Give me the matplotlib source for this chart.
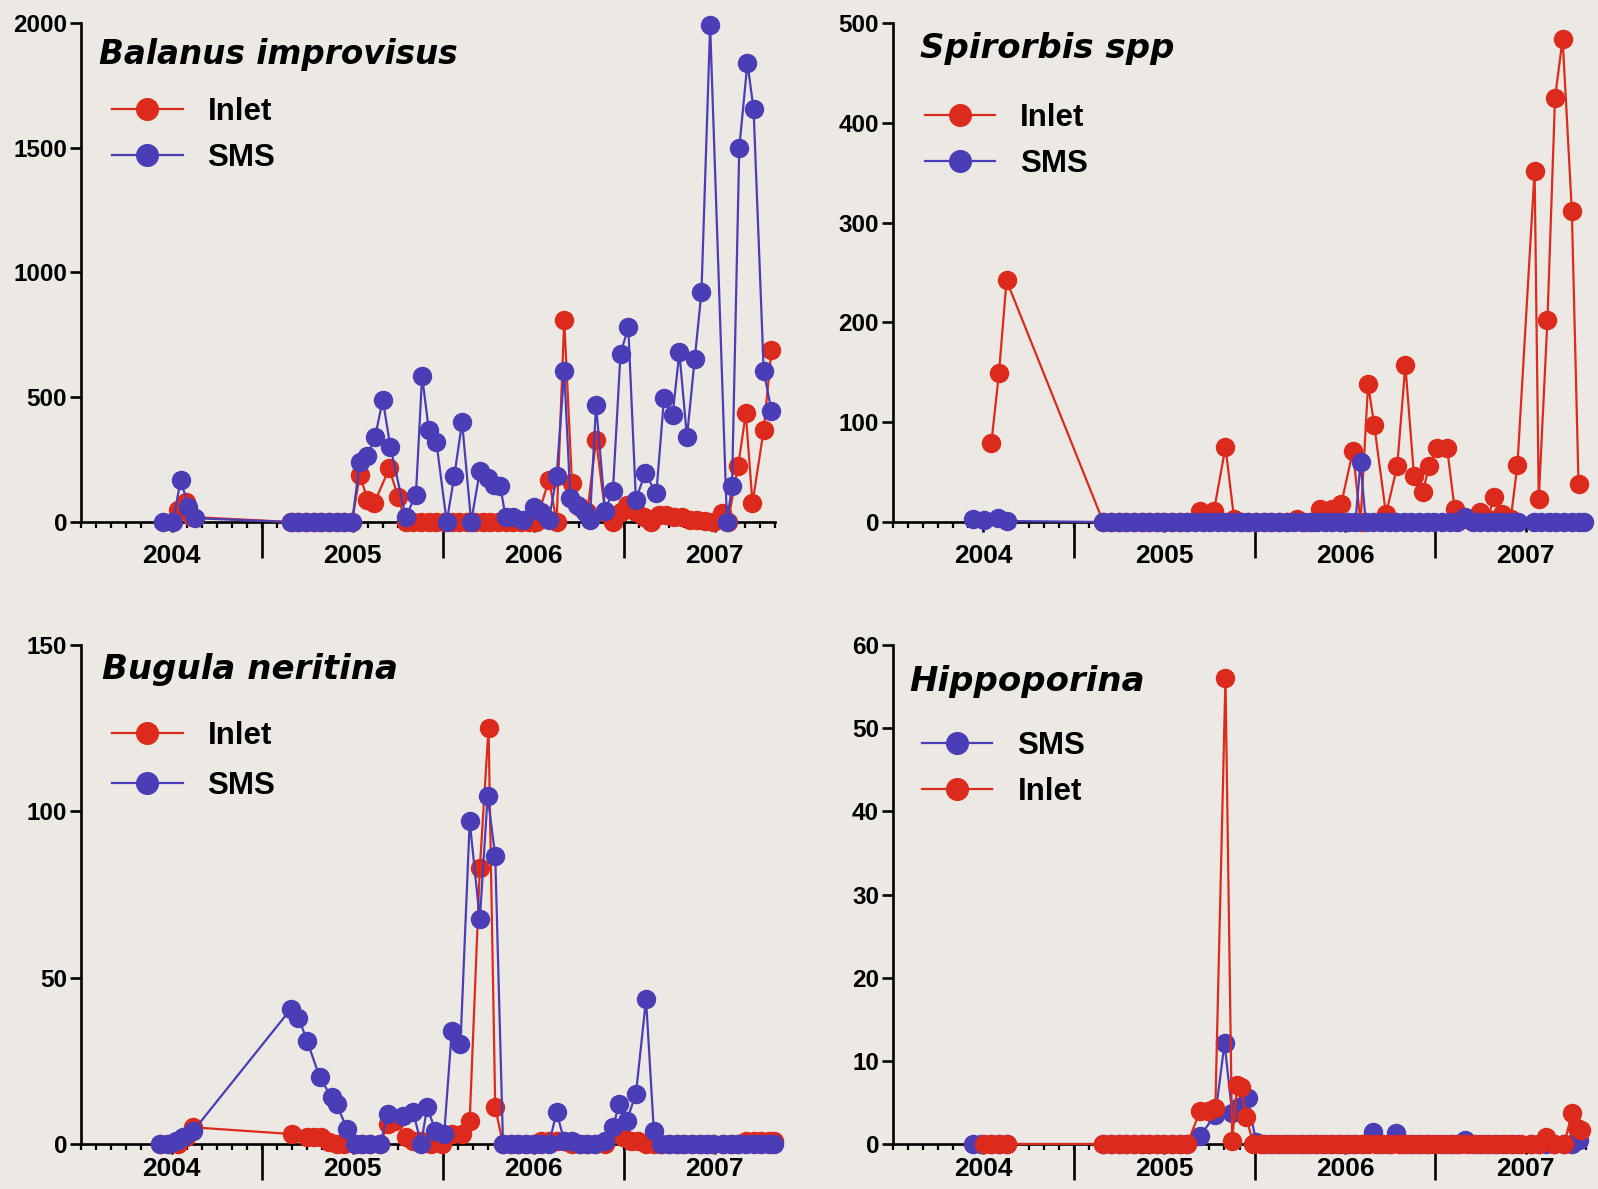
import numpy as np
import matplotlib
matplotlib.use("Agg")
import matplotlib.pyplot as plt
import matplotlib.transforms as mtransforms

plt.rcParams['font.family'] = ['Liberation Sans', 'DejaVu Sans']
plt.rcParams['font.weight'] = 'bold'

BG = '#ece9e4'
RED = '#dc2a1c'
BLUE = '#4a3db5'

YEARS = [2004, 2005, 2006, 2007]
YEAR_LABELS = ['2004', '2005', '2006', '2007']
SEASON_SPLITS = [2004.5, 2005.5, 2006.5]

# ---------------- Balanus improvisus ----------------
tl_sms_t = [2003.952, 2004.008, 2004.051, 2004.093, 2004.130,
            2004.658, 2004.701, 2004.743, 2004.785, 2004.828, 2004.870, 2004.912, 2004.955, 2004.997,
            2005.040, 2005.082, 2005.124, 2005.167, 2005.209, 2005.294, 2005.350, 2005.384, 2005.421, 2005.463,
            2005.520, 2005.562, 2005.605, 2005.655, 2005.703, 2005.746, 2005.782, 2005.816, 2005.845, 2005.887,
            2005.944, 2006.000, 2006.042, 2006.085, 2006.127, 2006.169, 2006.203, 2006.240, 2006.282, 2006.311,
            2006.345, 2006.395, 2006.438, 2006.480, 2006.523, 2006.565, 2006.616, 2006.678, 2006.720, 2006.768,
            2006.805, 2006.847, 2006.890, 2006.927, 2006.975, 2007.068, 2007.096, 2007.136, 2007.181, 2007.215,
            2007.271, 2007.314]
tl_sms = [0, 0, 170, 60, 15,
          0, 0, 0, 0, 0, 0, 0, 0, 0,
          240, 265, 340, 490, 300, 20, 110, 585, 370, 320,
          0, 185, 400, 0, 205, 175, 150, 145, 20, 20,
          10, 60, 40, 10, 185, 605, 95, 70, 40, 10,
          470, 45, 125, 675, 780, 90, 195, 115, 495, 430,
          680, 340, 655, 920, 1990, 0, 145, 1500, 1840, 1655,
          605, 445]
tl_inlet_t = [2004.037, 2004.079, 2004.113,
              2004.658, 2004.701, 2004.743, 2004.785, 2004.828, 2004.870, 2004.912, 2004.955, 2004.997,
              2005.040, 2005.082, 2005.119, 2005.203, 2005.251, 2005.294,
              2005.336, 2005.379, 2005.421, 2005.463, 2005.506, 2005.548, 2005.590, 2005.633, 2005.675,
              2005.718, 2005.760, 2005.802, 2005.845, 2005.887, 2005.929, 2005.972, 2006.014,
              2006.085, 2006.127, 2006.169, 2006.212, 2006.254, 2006.297, 2006.345, 2006.395, 2006.438, 2006.480,
              2006.514, 2006.565, 2006.607, 2006.650, 2006.692, 2006.734, 2006.777, 2006.819, 2006.862, 2006.904,
              2006.946, 2006.989, 2007.040, 2007.073, 2007.130, 2007.172, 2007.209, 2007.271, 2007.314]
tl_inlet = [50, 80, 20,
            0, 0, 0, 0, 0, 0, 0, 0, 0,
            190, 90, 75, 215, 100, 0,
            0, 0, 0, 0, 0, 0, 0, 0, 0, 0, 0, 0, 0, 0, 0, 0, 0,
            170, 0, 810, 155, 60, 40, 330, 40, 0, 40,
            70, 40, 20, 0, 30, 30, 20, 20, 10, 10,
            5, 0, 35, 0, 225, 435, 75, 370, 690]

# ---------------- Spirorbis spp ----------------
tr_inlet_t = [2004.044, 2004.086, 2004.128,
              2004.663, 2004.706, 2004.748, 2004.790, 2004.832, 2004.875, 2004.917, 2004.959, 2005.001,
              2005.044, 2005.086, 2005.128,
              2005.199, 2005.241, 2005.275, 2005.339, 2005.387, 2005.424, 2005.466, 2005.508, 2005.551, 2005.593,
              2005.635, 2005.677, 2005.734, 2005.776, 2005.818, 2005.861, 2005.931, 2005.979, 2006.044, 2006.086,
              2006.128, 2006.162, 2006.227, 2006.289, 2006.334, 2006.382, 2006.430, 2006.466, 2006.508, 2006.565,
              2006.607, 2006.663, 2006.706, 2006.748, 2006.790, 2006.824, 2006.869, 2006.917, 2006.954, 2007.049,
              2007.072, 2007.120, 2007.162, 2007.204, 2007.255, 2007.292]
tr_inlet = [79, 149, 242,
            0, 0, 0, 0, 0, 0, 0, 0, 0, 0, 0, 0,
            11, 3, 11, 75, 3, 0, 0, 0, 0, 0,
            0, 0, 3, 0, 0, 13, 13, 18, 71, 0,
            138, 97, 8, 56, 157, 46, 30, 56, 74, 74,
            13, 3, 3, 10, 3, 25, 8, 3, 57, 352,
            23, 202, 425, 484, 312, 38]
tr_sms_t = [2003.945, 2004.001, 2004.080, 2004.128,
            2004.663, 2004.706, 2004.748, 2004.790, 2004.832, 2004.875, 2004.917, 2004.959, 2005.001, 2005.044,
            2005.086, 2005.128, 2005.170, 2005.213, 2005.255, 2005.297, 2005.339, 2005.382, 2005.424, 2005.466,
            2005.508, 2005.551, 2005.593, 2005.635, 2005.677, 2005.720, 2005.762, 2005.804, 2005.846, 2005.889,
            2005.931, 2005.973, 2006.015, 2006.058, 2006.086, 2006.115, 2006.157, 2006.199, 2006.241, 2006.283,
            2006.326, 2006.368, 2006.410, 2006.452, 2006.494, 2006.537, 2006.579, 2006.621, 2006.663, 2006.706,
            2006.748, 2006.790, 2006.832, 2006.875, 2006.917, 2006.959, 2007.044, 2007.086, 2007.128, 2007.170,
            2007.213, 2007.255, 2007.297, 2007.325]
tr_sms = [3, 2, 4, 1,
          0, 0, 0, 0, 0, 0, 0, 0, 0, 0,
          0, 0, 0, 0, 0, 0, 0, 0, 0, 0,
          0, 0, 0, 0, 0, 0, 0, 0, 0, 0,
          0, 0, 0, 0, 60, 0, 0, 0, 0, 0,
          0, 0, 0, 0, 0, 0, 0, 0, 5, 0,
          0, 0, 0, 0, 0, 0, 0, 0, 0, 0,
          0, 0, 0, 0]

# ---------------- Bugula neritina ----------------
bl_sms_t = [2003.938, 2003.980, 2004.023, 2004.065, 2004.121,
            2004.658, 2004.701, 2004.749, 2004.819, 2004.884, 2004.912, 2004.969, 2005.011, 2005.054, 2005.096,
            2005.153, 2005.195, 2005.280, 2005.336, 2005.378, 2005.412, 2005.458, 2005.506, 2005.548, 2005.596,
            2005.647, 2005.703, 2005.746, 2005.788, 2005.831, 2005.873, 2005.915, 2005.958, 2006.000, 2006.042,
            2006.085, 2006.127, 2006.169, 2006.212, 2006.254, 2006.297, 2006.339, 2006.395, 2006.438, 2006.472,
            2006.514, 2006.565, 2006.621, 2006.664, 2006.706, 2006.749, 2006.791, 2006.833, 2006.876, 2006.918,
            2006.960, 2006.989, 2007.045, 2007.088, 2007.130, 2007.172, 2007.215, 2007.257, 2007.299, 2007.328]
bl_sms = [0, 0, 1, 2, 4,
          40.5, 38, 31, 20, 14, 12, 4.5, 0, 0, 0,
          0, 9, 8.4, 9.5, 0, 11, 4, 3, 34, 30,
          97, 67.5, 104.6, 86.6, 0, 0, 0, 0, 0, 0,
          0, 9.6, 1, 1, 0, 0, 0, 1, 5, 12,
          7, 15, 43.5, 4, 0, 0, 0, 0, 0, 0,
          0, 0, 0, 0, 0, 0, 0, 0, 0, 0]
bl_inlet_t = [2003.938, 2003.980, 2004.037, 2004.079, 2004.121,
              2004.664, 2004.749, 2004.785, 2004.828, 2004.870, 2004.912, 2004.955, 2005.011, 2005.054, 2005.096,
              2005.153, 2005.195, 2005.237, 2005.294, 2005.336, 2005.378, 2005.435, 2005.492, 2005.548, 2005.605,
              2005.647, 2005.703, 2005.751, 2005.788, 2005.831, 2005.873, 2005.915, 2005.958, 2006.000, 2006.042,
              2006.085, 2006.127, 2006.169, 2006.212, 2006.254, 2006.297, 2006.339, 2006.395, 2006.451, 2006.494,
              2006.537, 2006.579, 2006.621, 2006.664, 2006.706, 2006.749, 2006.791, 2006.833, 2006.876, 2006.918,
              2006.960, 2006.989, 2007.045, 2007.088, 2007.130, 2007.172, 2007.215, 2007.257, 2007.299, 2007.328]
bl_inlet = [0, 0, 0, 2, 5,
            3, 2, 2, 2, 0.5, 0, 0, 0, 0, 0,
            0, 6, 7, 2, 1, 1, 0, 0, 3, 3,
            7, 83, 125, 11, 0, 0, 0, 0, 0, 1,
            1, 1, 1, 0, 0, 0, 0, 0, 4, 2,
            1, 1, 0, 0, 0, 0, 0, 0, 0, 0,
            0, 0, 0, 0, 0, 1, 1, 1, 1, 1]

# ---------------- Hippoporina ----------------
br_sms_t = [2003.945, 2003.987, 2004.044, 2004.086, 2004.128,
            2004.663, 2004.706, 2004.748, 2004.790, 2004.832, 2004.875, 2004.917, 2004.959, 2005.001, 2005.044,
            2005.086, 2005.128, 2005.199, 2005.283, 2005.334, 2005.376, 2005.415, 2005.461, 2005.508, 2005.551,
            2005.593, 2005.635, 2005.677, 2005.720, 2005.762, 2005.804, 2005.846, 2005.889, 2005.931, 2005.973,
            2006.015, 2006.058, 2006.100, 2006.156, 2006.199, 2006.241, 2006.283, 2006.326, 2006.368, 2006.410,
            2006.452, 2006.494, 2006.537, 2006.579, 2006.621, 2006.663, 2006.706, 2006.748, 2006.790, 2006.832,
            2006.875, 2006.917, 2006.959, 2007.030, 2007.072, 2007.114, 2007.156, 2007.213, 2007.255, 2007.297]
br_sms = [0, 0, 0, 0, 0,
          0, 0, 0, 0, 0, 0, 0, 0, 0, 0,
          0, 0, 1, 3.5, 12.1, 3.7, 4.5, 5.5, 0.3, 0,
          0, 0, 0, 0, 0, 0, 0, 0, 0, 0,
          0, 0, 0, 1.5, 0, 0, 1.3, 0, 0, 0,
          0, 0, 0, 0, 0, 0.5, 0, 0, 0, 0,
          0, 0, 0, 0, 0, 0, 0, 0, 0, 0.5]
br_inlet_t = [2004.001, 2004.044, 2004.086, 2004.128,
              2004.663, 2004.706, 2004.748, 2004.790, 2004.832, 2004.875, 2004.917, 2004.959, 2005.001, 2005.044,
              2005.086, 2005.128, 2005.199, 2005.241, 2005.283, 2005.339, 2005.376, 2005.404, 2005.424, 2005.452,
              2005.494, 2005.536, 2005.579, 2005.621, 2005.663, 2005.706, 2005.748, 2005.790, 2005.832, 2005.875,
              2005.917, 2005.959, 2006.001, 2006.044, 2006.086, 2006.128, 2006.170, 2006.213, 2006.255, 2006.297,
              2006.339, 2006.382, 2006.424, 2006.466, 2006.508, 2006.551, 2006.593, 2006.635, 2006.677, 2006.720,
              2006.762, 2006.804, 2006.846, 2006.889, 2006.931, 2006.973, 2007.030, 2007.072, 2007.114, 2007.156,
              2007.213, 2007.255, 2007.283, 2007.303]
br_inlet = [0, 0, 0, 0,
            0, 0, 0, 0, 0, 0, 0, 0, 0, 0,
            0, 0, 4, 4, 4.3, 56, 0.4, 7.1, 6.9, 3.3,
            0, 0, 0, 0, 0, 0, 0, 0, 0, 0,
            0, 0, 0, 0, 0, 0, 0, 0, 0, 0,
            0, 0, 0, 0, 0, 0, 0, 0, 0, 0,
            0, 0, 0, 0, 0, 0, 0, 0, 0.8, 0,
            0, 3.7, 1.9, 1.7]

W, H = 1598, 1189
fig = plt.figure(figsize=(W / 100, H / 100), dpi=100, facecolor=BG)


def add_ax(l, t, r, b):
    return fig.add_axes([l / W, 1 - b / H, (r - l) / W, (b - t) / H])


panels = [
    dict(box=(81, 23, 775, 522), title='Balanus improvisus', ymax=2000, yticks=[0, 500, 1000, 1500, 2000],
         series=[('Inlet', tl_inlet_t, tl_inlet, RED), ('SMS', tl_sms_t, tl_sms, BLUE)],
         order=['Inlet', 'SMS'], tpos=(0.026, 0.918), lpos=(0.045, 0.851), lsp=0.49, tsize=23.5, xpad=8.5),
    dict(box=(893, 23, 1586, 522), title='Spirorbis spp', ymax=500, yticks=[0, 100, 200, 300, 400, 500],
         series=[('Inlet', tr_inlet_t, tr_inlet, RED), ('SMS', tr_sms_t, tr_sms, BLUE)],
         order=['Inlet', 'SMS'], tpos=(0.039, 0.930), lpos=(0.046, 0.839), lsp=0.49, tsize=24.5, xpad=8.5),
    dict(box=(81, 645, 775, 1144), title='Bugula neritina', ymax=150, yticks=[0, 50, 100, 150],
         series=[('Inlet', bl_inlet_t, bl_inlet, RED), ('SMS', bl_sms_t, bl_sms, BLUE)],
         order=['Inlet', 'SMS'], tpos=(0.030, 0.932), lpos=(0.045, 0.847), lsp=0.63, tsize=24.5, xpad=2),
    dict(box=(893, 645, 1586, 1144), title='Hippoporina', ymax=60, yticks=[0, 10, 20, 30, 40, 50, 60],
         series=[('SMS', br_sms_t, br_sms, BLUE), ('Inlet', br_inlet_t, br_inlet, RED)],
         order=['SMS', 'Inlet'], tpos=(0.024, 0.908), lpos=(0.042, 0.827), lsp=0.49, tsize=24.5, xpad=2),
]

months = np.arange(2003.5, 2007.34, 1 / 12)

for p in panels:
    ax = add_ax(*p['box'])
    ax.set_facecolor('none')
    handles = {}
    for i, (name, t, v, c) in enumerate(p['series']):
        ln, = ax.plot(t, v, color=c, lw=1.6, marker='o', ms=13, mec=c, mfc=c,
                      clip_on=False, zorder=3 + i)
        handles[name] = ln
    ax.set_xlim(2003.5, 2007.33)
    ax.set_ylim(0, p['ymax'])
    ax.set_yticks(p['yticks'])
    ax.set_yticklabels([str(v) for v in p['yticks']])
    ax.set_xticks(YEARS)
    ax.set_xticklabels(YEAR_LABELS)
    ax.set_xticks(months, minor=True)
    for s in ['top', 'right']:
        ax.spines[s].set_visible(False)
    for s in ['left', 'bottom']:
        ax.spines[s].set_linewidth(1.9)
        ax.spines[s].set_zorder(2)
    ax.tick_params(axis='y', which='major', length=8, width=1.9, pad=2, labelsize=17.5, direction='out')
    ax.tick_params(axis='x', which='major', length=7, width=1.9, pad=p['xpad'], labelsize=19, direction='out')
    ax.tick_params(axis='x', which='minor', length=4, width=1.6, direction='out')
    for lab in ax.get_xticklabels() + ax.get_yticklabels():
        lab.set_fontweight('bold')
    trans = mtransforms.blended_transform_factory(ax.transData, ax.transAxes)
    for xs in SEASON_SPLITS:
        ax.plot([xs, xs], [0, -36 / 499], transform=trans, color='black', lw=1.9,
                clip_on=False, solid_capstyle='butt', zorder=2)
    ax.text(p['tpos'][0], p['tpos'][1], p['title'], transform=ax.transAxes, fontsize=p['tsize'],
            fontweight='bold', fontstyle='italic', family='DejaVu Sans', va='baseline', ha='left')
    leg = ax.legend([handles[n] for n in p['order']], p['order'], loc='upper left',
                    bbox_to_anchor=p['lpos'], frameon=False, borderpad=0, borderaxespad=0,
                    handlelength=2.25, handletextpad=0.8, labelspacing=p['lsp'], markerscale=1.2,
                    prop={'size': 22.5, 'weight': 'bold'})

fig.savefig('out.png', dpi=100, facecolor=BG)
